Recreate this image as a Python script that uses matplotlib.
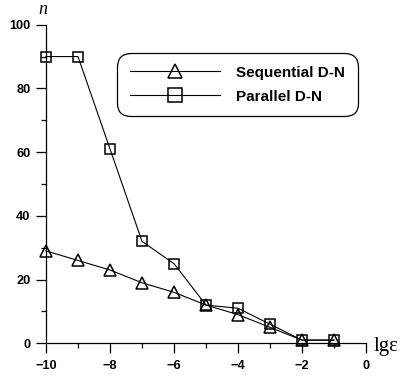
import matplotlib
matplotlib.use("Agg")
import matplotlib.pyplot as plt
from matplotlib.ticker import MultipleLocator

x = [-10, -9, -8, -7, -6, -5, -4, -3, -2, -1]
sequential = [29, 26, 23, 19, 16, 12, 9, 5, 1, 1]
parallel = [90, 90, 61, 32, 25, 12, 11, 6, 1, 1]
labels = ["Sequential D-N", "Parallel D-N"]
xticks = [-10, -8, -6, -4, -2, 0]
yticks = [0, 20, 40, 60, 80, 100]

fig = plt.figure(figsize=(4.07, 3.76), dpi=100)
ax = fig.add_axes([46/407, 32.7/376, 320/407, 318.6/376])

ax.plot(x, sequential, color="black", lw=0.8, marker="^", ms=8, mfc="none",
        mec="black", mew=1.1, clip_on=False, label=labels[0])
ax.plot(x, parallel, color="black", lw=0.8, marker="s", ms=7.8, mfc="none",
        mec="black", mew=1.1, clip_on=False, label=labels[1])

ax.set_xlim(-10, 0)
ax.set_ylim(0, 100)
ax.set_xticks(xticks)
ax.set_yticks(yticks)
ax.xaxis.set_minor_locator(MultipleLocator(1))
ax.yaxis.set_minor_locator(MultipleLocator(10))
for s in ["top", "right"]:
    ax.spines[s].set_visible(False)
for s in ["left", "bottom"]:
    ax.spines[s].set_linewidth(0.9)
ax.tick_params(which="major", direction="out", length=7.2, width=0.9, pad=4)
ax.tick_params(which="minor", direction="out", length=3.6, width=0.9)
ax.tick_params(axis="x", which="major", pad=5)
for lab in ax.get_xticklabels() + ax.get_yticklabels():
    lab.set_fontfamily("Liberation Sans")
    lab.set_fontweight("bold")
    lab.set_fontsize(9.2)

fig.text(43/407, 1 - 10/376, "n", fontfamily="Liberation Serif", fontstyle="italic",
         fontsize=13, ha="center", va="center")
fig.text(374/407, 1 - 346/376, "lgε", fontfamily="Liberation Serif",
         fontsize=15, ha="left", va="center")

leg = ax.legend(loc="upper left", bbox_to_anchor=(117/407, 1 - 53/376),
                bbox_transform=fig.transFigure, frameon=True, fancybox=True,
                handlelength=5.9, handletextpad=1.1, borderpad=0.82,
                labelspacing=0.67, borderaxespad=0, markerscale=1.3,
                prop={"family": "Liberation Sans", "weight": "bold", "size": 11})
frame = leg.get_frame()
frame.set_edgecolor("black")
frame.set_linewidth(0.9)
frame.set_alpha(1)
frame.set_boxstyle("round", pad=0, rounding_size=0.9)

fig.savefig("out.png", dpi=100)
